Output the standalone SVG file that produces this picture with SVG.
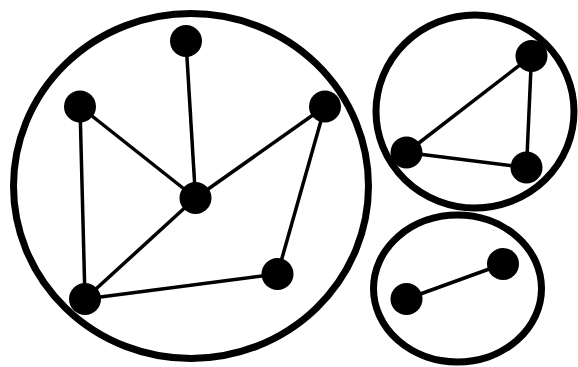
<svg xmlns="http://www.w3.org/2000/svg" width="578" height="367" viewBox="0 0 578 367">
<style>
.grp{fill:none;stroke:#000;stroke-width:7}
.e{stroke:#000;stroke-width:3.5;fill:none}
.n{fill:#000}
</style>
<rect width="578" height="367" fill="#fff"/>
<g id="groups">
<ellipse id="group1" class="grp" cx="191" cy="186" rx="177.5" ry="172.5"/>
<ellipse id="group2" class="grp" cx="475" cy="111.5" rx="99" ry="96.5"/>
<ellipse id="group3" class="grp" cx="457.5" cy="288.5" rx="84" ry="73.5"/>
</g>
<g id="connectors">
<line class="e" x1="186" y1="41" x2="195.5" y2="198"/>
<line class="e" x1="80" y1="106.5" x2="195.5" y2="198"/>
<line class="e" x1="325" y1="106.5" x2="195.5" y2="198"/>
<line class="e" x1="80" y1="106.5" x2="85" y2="299"/>
<line class="e" x1="85" y1="299" x2="195.5" y2="198"/>
<line class="e" x1="85" y1="299" x2="277.5" y2="274"/>
<line class="e" x1="277.5" y1="274" x2="325" y2="106.5"/>
<line class="e" x1="531.5" y1="56" x2="406.5" y2="152.5"/>
<line class="e" x1="531.5" y1="56" x2="526.5" y2="167.5"/>
<line class="e" x1="406.5" y1="152.5" x2="526.5" y2="167.5"/>
<line class="e" x1="406.5" y1="299" x2="503" y2="264"/>
</g>
<g id="n1"><circle class="n" cx="186" cy="41" r="16"/></g>
<g id="n2"><circle class="n" cx="80" cy="106.5" r="16"/></g>
<g id="n3"><circle class="n" cx="325" cy="106.5" r="16"/></g>
<g id="n4"><circle class="n" cx="195.5" cy="198" r="16"/></g>
<g id="n5"><circle class="n" cx="277.5" cy="274" r="16"/></g>
<g id="n6"><circle class="n" cx="85" cy="299" r="16"/></g>
<g id="n7"><circle class="n" cx="531.5" cy="56" r="16"/></g>
<g id="n8"><circle class="n" cx="406.5" cy="152.5" r="16"/></g>
<g id="n9"><circle class="n" cx="526.5" cy="167.5" r="16"/></g>
<g id="n10"><circle class="n" cx="406.5" cy="299" r="16"/></g>
<g id="n11"><circle class="n" cx="503" cy="264" r="16"/></g>
</svg>
